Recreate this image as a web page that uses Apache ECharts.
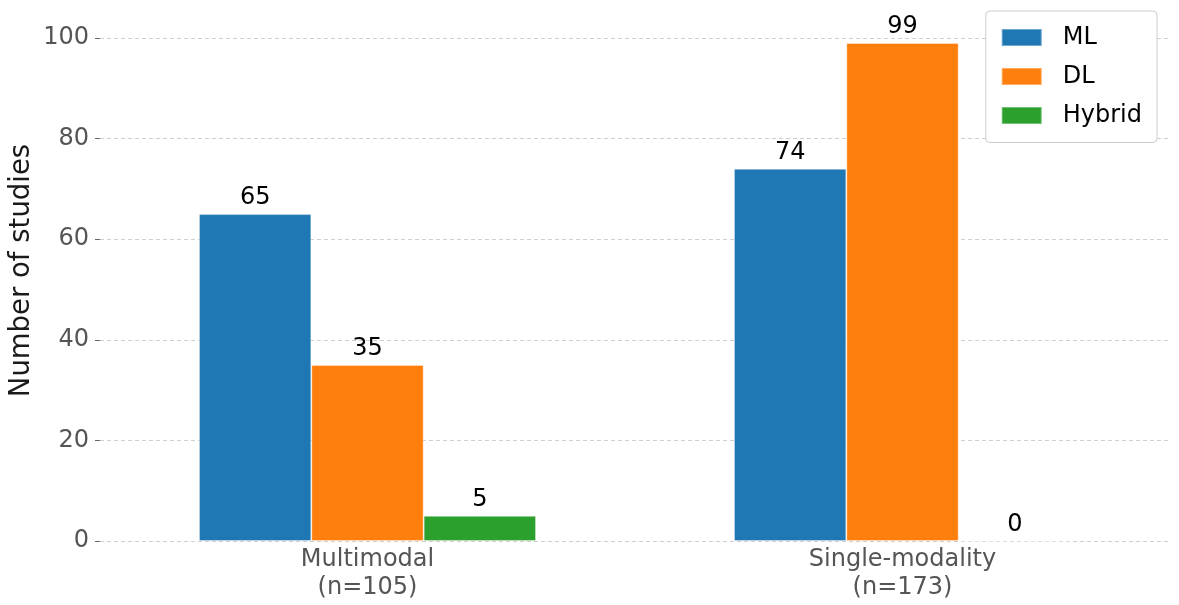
<!DOCTYPE html>
<html>
<head>
<meta charset="utf-8">
<script src="https://cdn.jsdelivr.net/npm/echarts@6/dist/echarts.min.js"></script>
<style>
  html, body { margin: 0; padding: 0; background: #fff; }
  #chart { width: 1179px; height: 605px; }
</style>
</head>
<body>
<div id="chart"></div>
<script>
const categories = ['Multimodal', 'Single-modality'];
const studyCounts = [105, 173];
const mlValues = [65, 74];
const dlValues = [35, 99];
const hybridValues = [5, 0];
const yTicks = { min: 0, max: 100, interval: 20 };

const colorList = ['#1f77b4', '#ff7f0e', '#2ca02c'];
const font = 'DejaVu Sans';

function barSeries(name, data, color) {
  return {
    name: name,
    type: 'bar',
    data: data,
    barWidth: '21%',
    barGap: '0%',
    itemStyle: {
      color: color,
      borderColor: 'rgba(255,255,255,0.35)',
      borderWidth: 1
    },
    label: {
      show: true,
      position: 'top',
      distance: 4,
      color: '#000',
      fontFamily: font,
      fontSize: 24
    }
  };
}

let myChart = echarts.init(document.getElementById('chart'));
myChart.setOption({
  animation: false,
  grid: { left: 100, right: 9, top: 38, bottom: 64, outerBoundsMode: 'none', containLabel: false },
  legend: {
    orient: 'vertical',
    right: 22,
    top: 11,
    icon: 'rect',
    itemWidth: 40,
    itemHeight: 17,
    itemGap: 15,
    padding: [14.5, 15, 15, 15],
    backgroundColor: '#fff',
    borderColor: '#cccccc',
    borderWidth: 1,
    borderRadius: 4,
    textStyle: {
      fontFamily: font,
      fontSize: 24,
      color: '#000',
      padding: [0, 0, 0, 16]
    },
    data: ['ML', 'DL', 'Hybrid']
  },
  xAxis: {
    type: 'category',
    data: categories.map((c, i) => c + '\n(n=' + studyCounts[i] + ')'),
    axisLine: { show: false },
    axisTick: { show: false },
    axisLabel: {
      margin: 5,
      color: '#555',
      fontFamily: font,
      fontSize: 24,
      lineHeight: 28
    }
  },
  yAxis: {
    type: 'value',
    min: yTicks.min,
    max: yTicks.max,
    interval: yTicks.interval,
    name: 'Number of studies',
    nameLocation: 'middle',
    nameGap: 64,
    nameMoveOverlap: false,
    nameTextStyle: {
      fontFamily: font,
      fontSize: 27.5,
      color: '#1a1a1a',
      padding: [0, 0, 0, 38]
    },
    axisLine: { show: false },
    axisTick: { show: true, length: 5, lineStyle: { color: '#666' } },
    axisLabel: {
      margin: 11,
      color: '#555',
      fontFamily: font,
      fontSize: 24
    },
    splitLine: {
      show: true,
      lineStyle: { color: '#cfcfcf', type: [4, 3], width: 1 }
    }
  },
  series: [
    barSeries('ML', mlValues, colorList[0]),
    barSeries('DL', dlValues, colorList[1]),
    barSeries('Hybrid', hybridValues, colorList[2])
  ]
});
</script>
</body>
</html>
